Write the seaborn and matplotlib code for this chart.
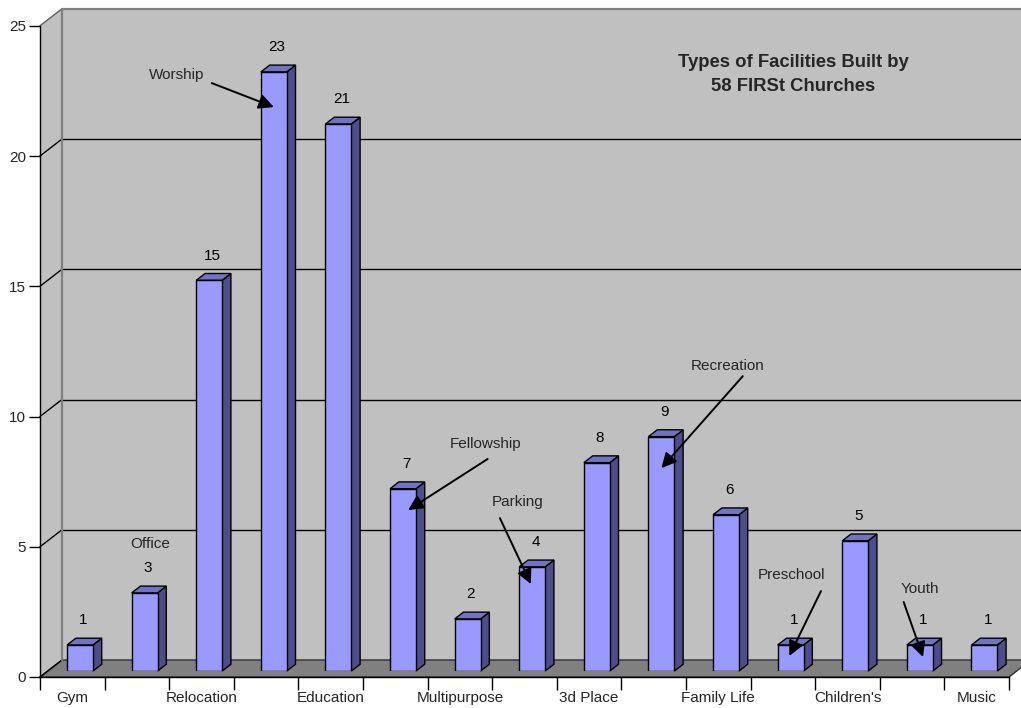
import matplotlib
matplotlib.use("Agg")
import matplotlib.pyplot as plt
import numpy as np
import pandas as pd
import seaborn as sns
from matplotlib.patches import Polygon

# ---- data -------------------------------------------------------------
categories = ["Gym", "Office", "Relocation", "Worship", "Education", "Fellowship",
              "Multipurpose", "Parking", "3d Place", "Recreation", "Family Life",
              "Preschool", "Children's", "Youth", "Music"]
counts = [1, 3, 15, 23, 21, 7, 2, 4, 8, 9, 6, 1, 5, 1, 1]
axis_labels = ["Gym", "Relocation", "Education", "Multipurpose",
               "3d Place", "Family Life", "Children's", "Music"]
y_ticks = [0, 5, 10, 15, 20, 25]
title_lines = ["Types of Facilities Built by", "58 FIRSt Churches"]
callout_names = ["Office", "Worship", "Fellowship", "Parking",
                 "Recreation", "Preschool", "Youth"]

# ---- layout -----------------------------------------------------------
# callout text position, arrow start (data units) and arrow tip (x nudge, drop below bar top)
callout_layout = {
    "Office":     ((1.08, 4.88), None, None),
    "Worship":    ((1.50, 22.88), (2.04, 22.57), (0.00, 1.35)),
    "Fellowship": ((6.28, 8.71), (6.31, 8.14), (0.08, 0.82)),
    "Parking":    ((6.78, 6.49), (6.50, 5.87), (-0.02, 0.66)),
    "Recreation": ((10.03, 11.71), (10.26, 11.32), (0.00, 1.21)),
    "Preschool":  ((11.02, 3.69), (11.47, 3.07), (-0.02, 0.42)),
    "Youth":      ((13.00, 3.15), (12.75, 2.65), (0.05, 0.46)),
}

W, H = 1021, 708
FRONT_L, FRONT_B = 40, 31          # front plane origin (px)
PLOT_W, PLOT_H = 969, 651.25       # plot size (px)
DEPTH_PX = (22, 17)                # depth of the chart box (px)
BAR_POS, BAR_DEPTH = 0.35, 0.40    # bar placement inside the depth

YMAX = 25
NCAT = len(categories)
DX = DEPTH_PX[0] / PLOT_W * NCAT
DY = DEPTH_PX[1] / PLOT_H * YMAX

WALL = "#C0C0C0"
FLOOR = "#808080"
BAR_FRONT = "#9999FF"
BAR_SIDE = "#4D4D8A"
BAR_TOP = "#7373C4"

sns.set_style("white")
plt.rcParams["font.family"] = ["Liberation Sans", "DejaVu Sans"]

fig = plt.figure(figsize=(W / 100, H / 100), dpi=100)
fig.patch.set_facecolor("white")

# front plane axes: carries the value axis and category axis
ax = fig.add_axes([FRONT_L / W, FRONT_B / H, PLOT_W / W, PLOT_H / H])
ax.set_xlim(-0.5, NCAT - 0.5)
ax.set_ylim(0, YMAX)
ax.patch.set_visible(False)

x0, x1 = -0.5, NCAT - 0.5
# back wall
ax.add_patch(Polygon([(x0 + DX, DY), (x1 + DX, DY), (x1 + DX, YMAX + DY), (x0 + DX, YMAX + DY)],
                     closed=True, fc=WALL, ec="none", clip_on=False, zorder=0))
# side wall
ax.add_patch(Polygon([(x0, 0), (x0, YMAX), (x0 + DX, YMAX + DY), (x0 + DX, DY)],
                     closed=True, fc=WALL, ec="none", clip_on=False, zorder=0))
# floor
ax.add_patch(Polygon([(x0, 0), (x1, 0), (x1 + DX, DY), (x0 + DX, DY)],
                     closed=True, fc=FLOOR, ec="#303030", lw=1, clip_on=False, zorder=0.5))
# gridlines on the back wall and their diagonals on the side wall
for v in y_ticks:
    col = "#606060" if v == YMAX else "black"
    ax.plot([x0, x0 + DX], [v, v + DY], color=col, lw=1, clip_on=False, zorder=0.6)
    if 0 < v < YMAX:
        ax.plot([x0 + DX, x1 + DX], [v + DY, v + DY], color="black", lw=1,
                clip_on=False, zorder=0.6)
# wall outline
ax.plot([x0 + DX, x0 + DX], [DY, YMAX + DY], color="#808080", lw=1.6, clip_on=False, zorder=0.7)
ax.plot([x0 + DX, x1 + DX], [YMAX + DY, YMAX + DY], color="#808080", lw=1.6, clip_on=False, zorder=0.7)

for side in ["top", "right"]:
    ax.spines[side].set_visible(False)
for side in ["left", "bottom"]:
    ax.spines[side].set_color("black")
    ax.spines[side].set_linewidth(1)

ax.set_yticks(y_ticks)
ax.set_yticklabels([str(t) for t in y_ticks])
ax.tick_params(axis="y", direction="out", length=8, width=1, color="black",
               pad=2, labelsize=11, left=True)
ax.set_xticks(np.arange(-0.5, NCAT, 1.0))
ax.set_xticklabels([])
ax.set_xticks(np.arange(0, NCAT, 2), minor=True)
ax.set_xticklabels(axis_labels, minor=True)
ax.tick_params(axis="x", which="major", direction="out", length=9, width=1,
               color="black", bottom=True)
ax.tick_params(axis="x", which="minor", length=0, pad=10, labelsize=11, bottom=True)

# bar plane axes, set back inside the box depth
bar_l = FRONT_L + BAR_POS * DEPTH_PX[0]
bar_b = FRONT_B + BAR_POS * DEPTH_PX[1]
axb = fig.add_axes([bar_l / W, bar_b / H, PLOT_W / W, PLOT_H / H])
df = pd.DataFrame({"facility": categories, "count": counts})
sns.barplot(data=df, x="facility", y="count", order=categories, color=BAR_FRONT,
            saturation=1, width=0.4, edgecolor="black", linewidth=1, ax=axb, zorder=3)
axb.set_xlim(-0.5, NCAT - 0.5)
axb.set_ylim(0, YMAX)
axb.axis("off")

bdx, bdy = BAR_DEPTH * DX, BAR_DEPTH * DY
for p, v in zip(list(axb.patches), counts):
    bx, bw, bh = p.get_x(), p.get_width(), p.get_height()
    axb.add_patch(Polygon([(bx + bw, 0), (bx + bw + bdx, bdy), (bx + bw + bdx, bh + bdy), (bx + bw, bh)],
                          closed=True, fc=BAR_SIDE, ec="black", lw=1, zorder=2.9, clip_on=False))
    axb.add_patch(Polygon([(bx, bh), (bx + bdx, bh + bdy), (bx + bw + bdx, bh + bdy), (bx + bw, bh)],
                          closed=True, fc=BAR_TOP, ec="black", lw=1, zorder=2.9, clip_on=False))
    axb.text(bx + bw / 2 + 0.05, bh + 0.95, f"{v:g}", ha="center", va="center",
             fontsize=11, color="black", zorder=5)

for name in callout_names:
    i = categories.index(name)
    text_xy, start_xy, tip = callout_layout[name]
    axb.text(*text_xy, name, ha="center", va="center", fontsize=11, zorder=5)
    if tip is not None:
        axb.annotate("", xy=(i + tip[0], counts[i] - tip[1]), xytext=start_xy, zorder=5,
                     arrowprops=dict(arrowstyle="-|>,head_length=0.6,head_width=0.3",
                                     color="black", lw=1.4,
                                     mutation_scale=15, shrinkA=0, shrinkB=0))

fig.text(793 / W, 1 - 74.5 / H, "\n".join(title_lines), ha="center", va="center",
         fontsize=13.3, fontweight="bold", linespacing=1.5)

fig.savefig("out.png", dpi=100)
